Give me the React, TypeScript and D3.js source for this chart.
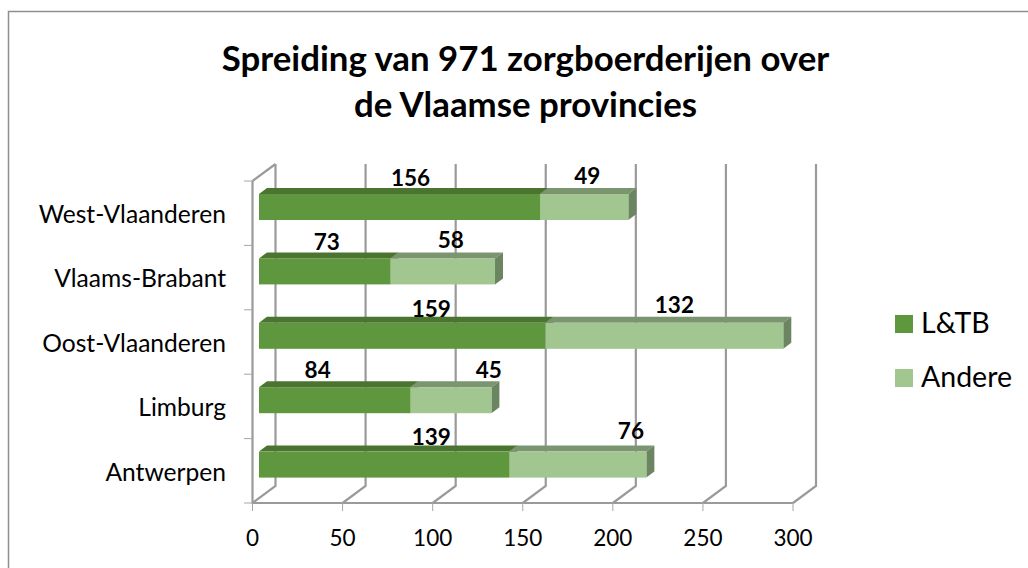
import * as d3 from 'd3';
import React from 'react';

const categories = ['Antwerpen', 'Limburg', 'Oost-Vlaanderen', 'Vlaams-Brabant', 'West-Vlaanderen'];
const ltb = [139, 84, 159, 73, 156];
const andere = [76, 45, 132, 58, 49];
const xTicks = [0, 50, 100, 150, 200, 250, 300];
const titleLines = ['Spreiding van 971 zorgboerderijen over', 'de Vlaamse provincies'];

// the labels were dragged by hand in the original, so they need a nudge from the segment centre
const ltbNudge = [[47, -15], [-17, -17], [29, -14], [2, -16], [11, -16]];
const andereNudge = [[53, -21], [38, -17], [10, -18], [8, -18], [3, -18]];

const depthX = 23, depthY = 17;       // floor depth of the 3d box
const barDx = 8, barDy = 6, barH = 26; // depth of a bar
const barStart = 6.5;

const x = d3.scaleLinear().domain([0, 300]).range([252.5, 793]);
const y = d3.scaleBand().domain(categories).range([503, 181]);

const poly = (pts: number[][]) => pts.map(p => p.join(',')).join(' ');

const Bar = ({ v0, v1, top, face, roof, side }: any) => {
  const x0 = x(v0) + barStart;
  const x1 = x(v1) + barStart;
  return (
    <g>
      <polygon points={poly([[x0, top], [x0 + barDx, top - barDy], [x1 + barDx, top - barDy], [x1, top]])} fill={roof} />
      <polygon points={poly([[x1, top], [x1 + barDx, top - barDy], [x1 + barDx, top + barH - barDy], [x1, top + barH]])} fill={side} />
      <rect x={x0} y={top} width={x1 - x0} height={barH} fill={face} />
    </g>
  );
};

export default function App() {
  const grid = '#9a9a9a';
  const font = 'Lato, "Open Sans", sans-serif';
  return (
    <svg width={1028} height={568} style={{ position: 'absolute', left: 0, top: 0 }} fontFamily={font}>
      <rect x={8.5} y={11.5} width={1040} height={580} fill="#fff" stroke="#8f8f8f" strokeWidth={1.5} />

      {titleLines.map((t, i) => (
        <text key={t} x={525.5} y={71 + i * 46} textAnchor="middle" fontSize={34.8} fontWeight={700} fill="#000">{t}</text>
      ))}

      {/* back wall, floor and left wall */}
      <g fill="none" stroke={grid} strokeWidth={2.2}>
        <path d={`M${x(0)},${y.range()[1]} L${x(0)},503 L${x(300)},503`} />
        <path d={`M${x(0)},${y.range()[1]} L${x(0) + depthX},${y.range()[1] - depthY}`} />
        {xTicks.map(t => (
          <path key={t} d={`M${x(t)},503 L${x(t) + depthX},${503 - depthY} L${x(t) + depthX},${y.range()[1] - depthY}`} />
        ))}
      </g>
      <g stroke="#a6a6a6" strokeWidth={1}>
        {xTicks.map(t => <line key={t} x1={x(t)} x2={x(t)} y1={503} y2={511} />)}
        {[...categories.map(c => y(c)!), 503].map(v => <line key={v} x1={244} x2={252} y1={v} y2={v} />)}
      </g>

      {categories.map((c, i) => {
        const top = y(c)! + 13;
        return (
          <g key={c}>
            <Bar v0={0} v1={ltb[i]} top={top} face="#5f973e" roof="#4a742f" side="#4a742f" />
            <Bar v0={ltb[i]} v1={ltb[i] + andere[i]} top={top} face="#a2c68f" roof="#7b9570" side="#6a8560" />
          </g>
        );
      })}

      {categories.map(c => (
        <text key={c} x={226} y={y(c)! + 42} textAnchor="end" fontSize={24.6} fill="#000">{c}</text>
      ))}

      <g fontSize={22.5} fontWeight={700} textAnchor="middle" fill="#000">
        {categories.map((c, i) => {
          const top = y(c)! + 13;
          const cx1 = x(ltb[i] / 2) + barStart;
          const cx2 = x(ltb[i] + andere[i] / 2) + barStart;
          return (
            <g key={c}>
              <text x={cx1 + ltbNudge[i][0]} y={top + ltbNudge[i][1] + 8}>{ltb[i]}</text>
              <text x={cx2 + andereNudge[i][0]} y={top + andereNudge[i][1] + 8}>{andere[i]}</text>
            </g>
          );
        })}
      </g>

      <g fontSize={22.5} textAnchor="middle" fill="#000">
        {xTicks.map(t => <text key={t} x={x(t)} y={546}>{t}</text>)}
      </g>

      <g fontSize={28.5} fill="#000">
        <rect x={895} y={315} width={18} height={18} fill="#5f973e" />
        <text x={921} y={333}>L&amp;TB</text>
        <rect x={895} y={369} width={18} height={18} fill="#a2c68f" />
        <text x={921} y={387}>Andere</text>
      </g>
    </svg>
  );
}
